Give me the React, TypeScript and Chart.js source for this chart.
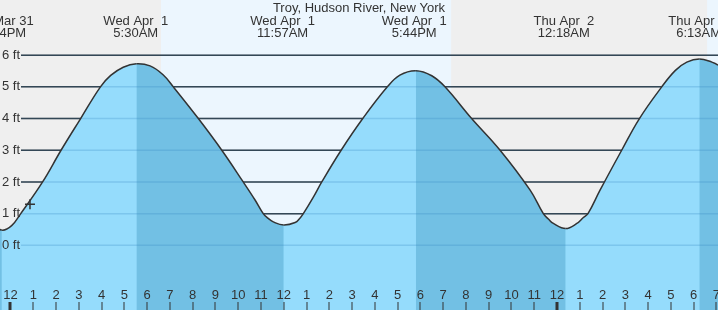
import React, { useEffect, useRef } from "react";
import { Chart, registerables } from "chart.js";

Chart.register(...registerables);

// ---- data (hours since midnight Wed Apr 1, feet) ----
const tideHours = [
  -1.0, -0.38, 0.05, 0.45, 1.41, 2.22, 3.08, 3.95, 4.4, 4.95, 5.53, 6.13, 6.7, 7.15,
  8.25, 9.28, 10.22, 10.74, 11.1, 11.3, 11.54, 12.0, 12.5, 12.7, 12.86, 13.3, 13.67, 14.52, 15.47,
  16.55, 17.1, 17.8, 18.5, 19.08, 20.25, 21.5, 22.82, 23.4, 23.62, 23.84, 24.38, 24.87, 25.16, 25.36,
  25.89, 26.84, 27.62, 28.6, 29.2, 29.7, 30.25, 30.8, 31.07, 31.6,
];
const tideFeet = [
  0.75, 0.48, 0.62, 1.0, 2.0, 3.0, 4.0, 5.0, 5.36, 5.62, 5.73, 5.66, 5.38, 5.0,
  4.0, 3.0, 2.0, 1.43, 1.0, 0.86, 0.74, 0.64, 0.72, 0.85, 1.0, 1.52, 2.0, 3.0, 4.0,
  5.0, 5.37, 5.51, 5.35, 5.0, 4.0, 3.0, 1.74, 1.0, 0.83, 0.69, 0.53, 0.69, 0.88, 1.0,
  1.74, 3.0, 4.0, 5.0, 5.52, 5.78, 5.88, 5.78, 5.68, 5.29,
];
const nowHours = [0.856];
const nowFeet = [1.3];

const extremeHours = [-0.433, 5.5, 11.95, 17.73, 24.3, 30.22];
const extremeDates = ["Tue Mar 31", "Wed Apr  1", "Wed Apr  1", "Wed Apr  1", "Thu Apr  2", "Thu Apr  2"];
const extremeTimes = ["11:34PM", "5:30AM", "11:57AM", "5:44PM", "12:18AM", "6:13AM"];

const dayStarts = [6.61, 30.59];
const dayEnds = [19.35, 40];

const feetTicks = [0, 1, 2, 3, 4, 5, 6];
const feetLabels = ["0 ft", "1 ft", "2 ft", "3 ft", "4 ft", "5 ft", "6 ft"];

const hourTicks = [
  0, 1, 2, 3, 4, 5, 6, 7, 8, 9, 10, 11, 12, 13, 14, 15, 16, 17, 18, 19, 20, 21, 22, 23,
  24, 25, 26, 27, 28, 29, 30, 31,
];
const hourLabels = [
  "12", "1", "2", "3", "4", "5", "6", "7", "8", "9", "10", "11",
  "12", "1", "2", "3", "4", "5", "6", "7", "8", "9", "10", "11",
  "12", "1", "2", "3", "4", "5", "6", "7",
];

const titleText = "Troy, Hudson River, New York";

const X_MIN = -0.461;
const X_MAX = 31.07;
const Y_MIN = -2.04;
const Y_MAX = 7.74;

const NIGHT = "#efefef";
const DAY = "#ecf6fe";
const WATER = "#95dcfc";
const WATER_EBB = "#72c0e4";
const INK = "#333333";
const FONT = '13px "Liberation Sans", Arial, sans-serif';

const tidePlugin = {
  id: "tideDecor",
  beforeDraw(chart: any) {
    const { ctx, scales } = chart;
    const xs = scales.x;
    const ys = scales.y;
    ctx.save();
    ctx.fillStyle = NIGHT;
    ctx.fillRect(0, 0, chart.width, chart.height);
    ctx.fillStyle = DAY;
    dayStarts.forEach((s, i) => {
      const x0 = xs.getPixelForValue(s);
      const x1 = xs.getPixelForValue(dayEnds[i]);
      ctx.fillRect(x0, 0, x1 - x0, chart.height);
    });
    ctx.strokeStyle = INK;
    ctx.lineWidth = 1.5;
    feetTicks.forEach((f) => {
      const y = ys.getPixelForValue(f);
      ctx.beginPath();
      ctx.moveTo(21, y);
      ctx.lineTo(chart.width, y);
      ctx.stroke();
    });
    ctx.restore();
  },
  beforeDatasetsDraw(chart: any) {
    const { ctx, scales } = chart;
    const ys = scales.y;
    ctx.save();
    ctx.strokeStyle = "rgba(50,130,190,0.25)";
    ctx.lineWidth = 1.5;
    feetTicks.forEach((f) => {
      const y = ys.getPixelForValue(f);
      ctx.beginPath();
      ctx.moveTo(21, y);
      ctx.lineTo(chart.width, y);
      ctx.stroke();
    });
    ctx.restore();
  },
  afterDraw(chart: any) {
    const { ctx, scales } = chart;
    const xs = scales.x;
    const ys = scales.y;
    const H = chart.height;
    ctx.save();
    ctx.font = FONT;
    ctx.fillStyle = INK;
    ctx.textAlign = "left";
    ctx.textBaseline = "middle";
    feetTicks.forEach((f, i) => {
      ctx.fillText(feetLabels[i], 2, ys.getPixelForValue(f));
    });
    ctx.textAlign = "center";
    ctx.textBaseline = "alphabetic";
    hourTicks.forEach((h, i) => {
      const x = xs.getPixelForValue(h);
      if (h % 24 === 0) {
        ctx.fillRect(Math.round(x) - 1.5, H - 8, 3, 8);
      } else {
        ctx.fillRect(Math.round(x) - 0.5, H - 8, 1, 8);
      }
      ctx.fillText(hourLabels[i], x, H - 11);
    });
    extremeHours.forEach((h, i) => {
      const x = xs.getPixelForValue(h);
      ctx.fillText(extremeDates[i], x, 25);
      ctx.fillText(extremeTimes[i], x, 37);
    });
    ctx.fillText(titleText, chart.width / 2, 12);
    ctx.restore();
  },
};

export default function App() {
  const canvasRef = useRef<HTMLCanvasElement | null>(null);

  useEffect(() => {
    const canvas = canvasRef.current;
    if (!canvas) return;
    const tideData = tideHours.map((h, i) => ({ x: h, y: tideFeet[i] }));
    const nowData = nowHours.map((h, i) => ({ x: h, y: nowFeet[i] }));
    const chart = new Chart(canvas, {
      type: "line",
      data: {
        datasets: [
          {
            data: nowData,
            showLine: false,
            pointStyle: "cross",
            pointRadius: 5,
            pointBorderWidth: 1.5,
            pointBorderColor: INK,
            borderColor: INK,
            fill: false,
          } as any,
          {
            data: tideData,
            borderColor: INK,
            borderWidth: 1.5,
            backgroundColor: "rgba(0,0,0,0)",
            fill: "start",
            pointRadius: 0,
            tension: 0.4,
            segment: {
              backgroundColor: (c: any) =>
                c.p1.parsed.y < c.p0.parsed.y ? WATER_EBB : "rgba(0,0,0,0)",
            },
          } as any,
          {
            data: tideData,
            borderWidth: 0,
            borderColor: "rgba(0,0,0,0)",
            backgroundColor: WATER,
            fill: "start",
            pointRadius: 0,
            tension: 0.4,
          } as any,
        ],
      },
      options: {
        responsive: false,
        maintainAspectRatio: false,
        animation: false,
        events: [],
        layout: { padding: 0, autoPadding: false } as any,
        plugins: {
          legend: { display: false },
          tooltip: { enabled: false },
          title: { display: false },
          filler: { drawTime: "beforeDatasetsDraw" } as any,
        },
        scales: {
          x: { type: "linear", min: X_MIN, max: X_MAX, display: false },
          y: { type: "linear", min: Y_MIN, max: Y_MAX, display: false },
        },
      },
      plugins: [tidePlugin],
    });
    return () => chart.destroy();
  }, []);

  return (
    <div style={{ position: "absolute", left: 0, top: 0, width: 718, height: 310 }}>
      <canvas ref={canvasRef} width={718} height={310} style={{ display: "block", width: 718, height: 310 }} />
    </div>
  );
}
